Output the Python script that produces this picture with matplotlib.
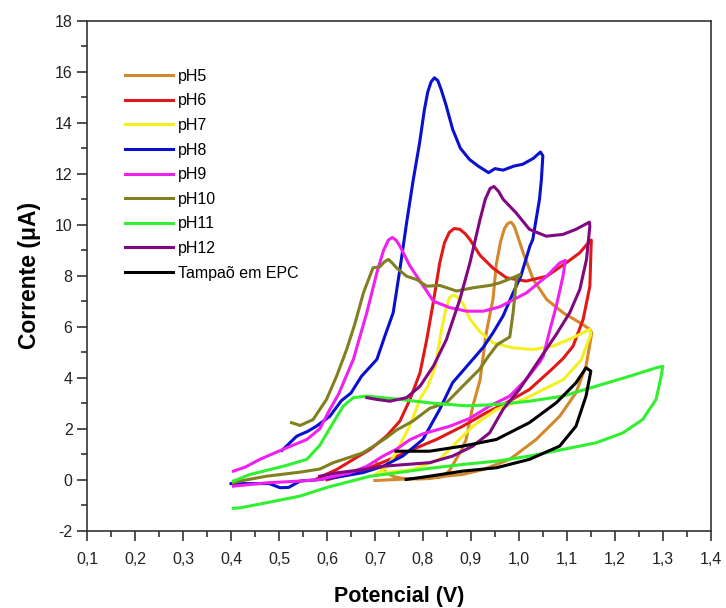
import matplotlib
matplotlib.use("Agg")
import matplotlib.pyplot as plt
from matplotlib.ticker import MultipleLocator, FuncFormatter

plt.rcParams['font.family'] = ['Liberation Sans', 'DejaVu Sans']
plt.rcParams['axes.unicode_minus'] = False

# potencial (V) / corrente (uA)
ph5_x = [0.703, 0.712, 0.724, 0.74, 0.759, 0.79, 0.815, 0.84, 0.855, 0.869, 0.88, 0.89, 0.904, 0.919, 0.932,
         0.946, 0.953, 0.962, 0.97, 0.977, 0.984, 0.99, 0.995, 1.009, 1.03, 1.058, 1.092, 1.127, 1.148, 1.152,
         1.146, 1.14, 1.119, 1.085, 1.036, 0.981, 0.925, 0.883, 0.814, 0.744, 0.70]
ph5_y = [0.67, 0.5, 0.27, 0.12, 0.05, 0.03, 0.05, 0.12, 0.35, 0.8, 1.15, 1.58, 2.89, 3.9, 5.76,
         7.07, 8.45, 9.35, 9.85, 10.05, 10.1, 9.95, 9.69, 8.9, 7.85, 7.07, 6.55, 6.16, 5.9, 5.75,
         5.1, 4.46, 3.41, 2.49, 1.58, 0.8, 0.4, 0.21, 0.08, 0.01, -0.03]

ph6_x = [0.58, 0.62, 0.655, 0.69, 0.724, 0.752, 0.773, 0.794, 0.808, 0.822, 0.835, 0.845, 0.855, 0.865, 0.877,
         0.888, 0.898, 0.919, 0.946, 0.974, 1.015, 1.058, 1.099, 1.127, 1.145, 1.151, 1.148, 1.134, 1.113, 1.092,
         1.064, 1.022, 0.974, 0.932, 0.883, 0.828, 0.779, 0.731, 0.696, 0.655, 0.62, 0.60]
ph6_y = [0.05, 0.4, 0.8, 1.19, 1.71, 2.3, 3.15, 4.2, 5.5, 7.0, 8.5, 9.3, 9.7, 9.85, 9.82,
         9.65, 9.42, 8.8, 8.3, 7.92, 7.79, 7.98, 8.51, 8.9, 9.3, 9.4, 7.59, 6.29, 5.24, 4.75,
         4.25, 3.54, 3.02, 2.63, 2.1, 1.58, 1.19, 0.8, 0.53, 0.25, 0.1, 0.0]

ph7_x = [0.70, 0.725, 0.744, 0.772, 0.795, 0.811, 0.826, 0.839, 0.849, 0.856, 0.864, 0.872, 0.884, 0.898, 0.919,
         0.946, 0.988, 1.03, 1.071, 1.113, 1.148, 1.15, 1.13, 1.093, 1.01, 0.953, 0.904, 0.869, 0.835, 0.779,
         0.717]
ph7_y = [0.2, 0.5, 1.06, 2.1, 3.2, 3.7, 4.45, 5.9, 6.8, 7.15, 7.25, 7.15, 6.9, 6.3, 5.8,
         5.37, 5.17, 5.11, 5.24, 5.57, 5.9, 5.7, 4.7, 3.93, 3.15, 2.76, 2.1, 1.45, 0.8, 0.4,
         0.27]

ph8_x = [0.506, 0.52, 0.537, 0.56, 0.578, 0.606, 0.63, 0.65, 0.672, 0.704, 0.72, 0.738, 0.752, 0.766, 0.78,
         0.793, 0.803, 0.81, 0.817, 0.824, 0.831, 0.838, 0.848, 0.862, 0.878, 0.897, 0.915, 0.937, 0.95, 0.967,
         0.99, 1.008, 1.03, 1.045, 1.05, 1.047, 1.043, 1.029, 1.023, 1.004, 0.988, 0.967, 0.946, 0.926, 0.904,
         0.862, 0.835, 0.80, 0.758, 0.717, 0.675, 0.62, 0.58, 0.544, 0.52, 0.502, 0.48, 0.45, 0.40]
ph8_y = [1.15, 1.4, 1.71, 1.9, 2.1, 2.49, 3.1, 3.4, 4.06, 4.72, 5.6, 6.55, 8.25, 10.08, 11.78,
         13.2, 14.5, 15.2, 15.6, 15.76, 15.65, 15.3, 14.7, 13.74, 13.0, 12.56, 12.3, 12.04, 12.2, 12.14,
         12.3, 12.37, 12.6, 12.85, 12.7, 11.78, 11.0, 9.42, 9.16, 7.98, 7.33, 6.42, 5.76, 5.2, 4.72,
         3.81, 2.76, 1.58, 0.93, 0.53, 0.28, 0.1, 0.0, -0.05, -0.3, -0.31, -0.15, -0.15, -0.15]

ph9_x = [0.405, 0.43, 0.46, 0.508, 0.558, 0.585, 0.606, 0.624, 0.655, 0.683, 0.704, 0.718, 0.728, 0.736, 0.744,
         0.752, 0.773, 0.801, 0.822, 0.856, 0.891, 0.926, 0.96, 1.016, 1.058, 1.085, 1.097, 1.092, 1.078, 1.065,
         1.051, 1.043, 1.015, 0.981, 0.939, 0.897, 0.856, 0.80, 0.773, 0.745, 0.717, 0.683, 0.648, 0.585, 0.544,
         0.474, 0.405]
ph9_y = [0.34, 0.5, 0.8, 1.19, 1.58, 2.0, 2.76, 3.35, 4.72, 6.55, 8.12, 9.0, 9.4, 9.5, 9.4,
         9.16, 8.38, 7.59, 7.0, 6.75, 6.61, 6.61, 6.78, 7.33, 7.98, 8.5, 8.6, 7.98, 6.81, 5.9,
         4.85, 4.6, 3.93, 3.28, 2.89, 2.4, 2.1, 1.8, 1.57, 1.2, 0.93, 0.53, 0.27, 0.01, -0.05,
         -0.12, -0.25]

ph10_x = [0.526, 0.544, 0.571, 0.599, 0.62, 0.641, 0.658, 0.676, 0.696, 0.71, 0.72, 0.728, 0.736, 0.745, 0.766,
          0.787, 0.808, 0.835, 0.87, 0.905, 0.94, 0.96, 0.995, 1.002, 0.995, 0.988, 0.981, 0.955, 0.935, 0.918,
          0.883, 0.849, 0.814, 0.779, 0.745, 0.724, 0.70, 0.675, 0.655, 0.613, 0.585, 0.544, 0.474, 0.419, 0.405]
ph10_y = [2.24, 2.13, 2.36, 3.15, 4.06, 5.11, 6.1, 7.33, 8.31, 8.35, 8.55, 8.64, 8.5, 8.31, 7.98,
          7.85, 7.59, 7.62, 7.4, 7.53, 7.62, 7.72, 7.98, 8.05, 7.85, 6.55, 5.6, 5.3, 4.8, 4.33,
          3.67, 3.02, 2.8, 2.3, 1.95, 1.65, 1.35, 1.06, 0.93, 0.67, 0.42, 0.3, 0.14, -0.05, -0.12]

ph11_x = [0.405, 0.44, 0.509, 0.558, 0.585, 0.613, 0.634, 0.655, 0.683, 0.752, 0.822, 0.891, 0.953, 1.022, 1.092,
          1.161, 1.231, 1.286, 1.30, 1.296, 1.286, 1.258, 1.217, 1.161, 1.092, 1.022, 0.953, 0.883, 0.814, 0.744,
          0.69, 0.60, 0.544, 0.474, 0.419, 0.405]
ph11_y = [-0.05, 0.21, 0.53, 0.8, 1.35, 2.24, 2.89, 3.22, 3.28, 3.15, 3.0, 2.9, 2.95, 3.08, 3.28,
          3.67, 4.06, 4.39, 4.45, 4.0, 3.15, 2.36, 1.84, 1.45, 1.19, 0.93, 0.73, 0.6, 0.45, 0.27,
          0.14, -0.3, -0.64, -0.9, -1.1, -1.12]

ph12_x = [0.683, 0.704, 0.731, 0.766, 0.794, 0.822, 0.849, 0.856, 0.877, 0.898, 0.919, 0.93, 0.94, 0.948, 0.958,
          0.967, 0.994, 1.022, 1.057, 1.092, 1.119, 1.147, 1.148, 1.141, 1.127, 1.106, 1.078, 1.043, 1.001, 0.967,
          0.939, 0.904, 0.862, 0.814, 0.765, 0.717, 0.675, 0.62, 0.585]
ph12_y = [3.22, 3.15, 3.08, 3.22, 3.67, 4.46, 5.5, 5.9, 7.07, 8.51, 10.2, 11.0, 11.42, 11.5, 11.3,
          11.0, 10.47, 9.82, 9.55, 9.62, 9.82, 10.1, 9.94, 8.64, 7.46, 6.55, 5.7, 4.72, 3.54, 2.76,
          1.84, 1.32, 0.93, 0.67, 0.6, 0.53, 0.4, 0.27, 0.14]

epc_x = [0.744, 0.814, 0.883, 0.953, 1.022, 1.078, 1.119, 1.14, 1.15, 1.14, 1.119, 1.085, 1.022, 0.953, 0.883,
         0.814, 0.765]
epc_y = [1.12, 1.12, 1.32, 1.58, 2.24, 3.02, 3.8, 4.39, 4.26, 3.28, 2.1, 1.32, 0.8, 0.47, 0.34,
         0.14, 0.01]

series = [
    (ph5_x, ph5_y, "pH5", "#d4882c"),
    (ph6_x, ph6_y, "pH6", "#e01818"),
    (ph7_x, ph7_y, "pH7", "#f4f020"),
    (ph8_x, ph8_y, "pH8", "#0a10d0"),
    (ph9_x, ph9_y, "pH9", "#f020f0"),
    (ph10_x, ph10_y, "pH10", "#808020"),
    (ph11_x, ph11_y, "pH11", "#30f030"),
    (ph12_x, ph12_y, "pH12", "#800880"),
    (epc_x, epc_y, u"Tampaõ em EPC", "#000000"),
]

fig = plt.figure(figsize=(7.26, 6.08), dpi=100)
ax = fig.add_axes([0.12, 0.127, 0.859, 0.839])

for xs, ys, name, cor in series:
    ax.plot(xs, ys, color=cor, lw=2.2, label=name, solid_joinstyle="round")

ax.set_xlim(0.1, 1.4)
ax.set_ylim(-2, 18)
ax.xaxis.set_major_locator(MultipleLocator(0.1))
ax.xaxis.set_minor_locator(MultipleLocator(0.05))
ax.yaxis.set_major_locator(MultipleLocator(2))
ax.yaxis.set_minor_locator(MultipleLocator(1))
ax.xaxis.set_major_formatter(FuncFormatter(lambda v, p: ("%.1f" % v).replace(".", ",")))
ax.tick_params(axis="x", which="major", pad=8)
ax.tick_params(which="major", length=7, width=1.1, labelsize=11.5, colors="#222222")
ax.tick_params(which="minor", length=4, width=1.1, colors="#222222")
for s in ax.spines.values():
    s.set_color("#333333")
    s.set_linewidth(1.2)

ax.set_xlabel("Potencial (V)", fontsize=15.5, fontweight="bold", labelpad=14)
ax.set_ylabel(u"Corrente (\u03bcA)", fontsize=16.5, fontweight="bold", labelpad=10)

ax.legend(loc="upper left", frameon=False, fontsize=11.5, handlelength=3.0, handletextpad=0.35,
          labelspacing=0.6, bbox_to_anchor=(0.05, 0.918), borderaxespad=0)

fig.savefig("out.png", dpi=100)
plt.close(fig)
